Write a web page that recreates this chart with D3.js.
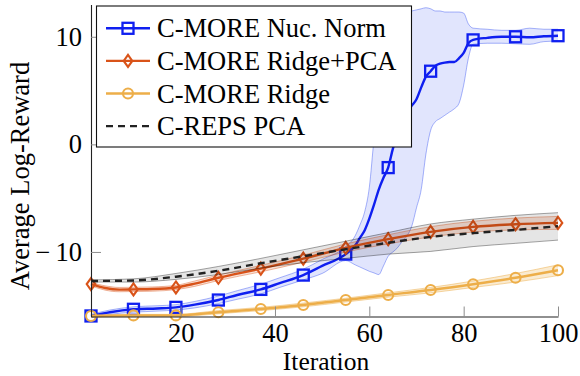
<!DOCTYPE html>
<html>
<head>
<meta charset="utf-8">
<script src="https://cdn.jsdelivr.net/npm/d3@7"></script>
<style>
  html, body { margin: 0; padding: 0; background: #fff; }
  svg { display: block; }
</style>
</head>
<body>
<svg id="chart" width="580" height="376"></svg>
<script>
// ---------------- DATA ----------------
const xTicks = [20, 40, 60, 80, 100];
const yTicks = [-10, 0, 10];
const markerIters = [1, 10, 19, 28, 37, 46, 55, 64, 73, 82, 91, 100];
const legendLabels = ["C-MORE Nuc. Norm", "C-MORE Ridge+PCA", "C-MORE Ridge", "C-REPS PCA"];

// C-MORE Nuc. Norm (blue)
const nucIter = [1,5,10,15,19,23,28,32,37,41,46,50,55,57,58,59,60,61,62,63,64,65,66,67,68,69,70,71,72,73,74,75,76,77,78,79,80,81,82,85,88,91,94,97,100];
const nucMean = [-15.95,-15.6,-15.33,-15.25,-15.15,-14.9,-14.47,-14.0,-13.48,-12.9,-12.15,-11.3,-10.2,-9.4,-8.7,-8.0,-6.9,-5.6,-4.2,-3.1,-2.16,-0.4,1.0,2.3,3.0,3.6,4.2,5.3,6.3,6.8,7.3,7.5,7.6,7.65,7.65,8.0,8.5,9.4,9.71,9.9,10.0,10.0,9.95,10.05,10.1];
const nucLo = [-16.1,-15.8,-15.6,-15.5,-15.4,-15.2,-14.8,-14.4,-13.9,-13.3,-12.6,-12.0,-10.8,-11.2,-11.4,-11.6,-11.8,-11.95,-12.1,-11.3,-10.4,-10.0,-9.6,-9.0,-8.5,-7.6,-5.9,-4.2,-0.9,1.3,2.1,2.4,2.7,3.0,3.3,3.8,5.5,8.0,9.3,9.4,9.4,9.35,9.3,9.55,9.6];
const nucHi = [-15.8,-15.4,-15.1,-15.0,-14.9,-14.6,-14.1,-13.6,-13.0,-12.4,-11.6,-10.7,-9.5,-8.5,-7.5,-6.3,-4.0,0.5,4.0,8.0,11.0,11.8,12.1,12.3,12.3,12.4,12.5,12.6,12.7,12.6,12.4,12.4,12.3,12.3,12.3,12.3,12.2,11.2,10.8,10.7,10.6,10.6,10.8,10.7,10.7];

// C-MORE Ridge+PCA (red-orange)
const rpIter = [1,4,7,10,14,19,23,28,37,46,55,64,73,82,91,100];
const rpMean = [-12.99,-13.35,-13.5,-13.48,-13.45,-13.3,-12.95,-12.4,-11.55,-10.62,-9.62,-8.81,-8.13,-7.67,-7.42,-7.3];
const rpLo   = [-13.15,-13.55,-13.7,-13.68,-13.65,-13.5,-13.2,-12.65,-11.85,-10.95,-10.0,-9.25,-8.6,-8.15,-7.95,-7.9];
const rpHi   = [-12.85,-13.15,-13.3,-13.28,-13.25,-13.1,-12.7,-12.15,-11.25,-10.3,-9.25,-8.4,-7.65,-7.15,-6.85,-6.7];

// C-MORE Ridge (yellow-orange)
const rIter = [1,10,19,28,37,46,55,64,73,82,91,100];
const rMean = [-15.95,-15.9,-15.9,-15.6,-15.3,-14.93,-14.47,-14.0,-13.54,-13.0,-12.4,-11.7];
const rLo   = [-16.05,-16.0,-16.0,-15.75,-15.45,-15.1,-14.65,-14.2,-13.8,-13.3,-12.8,-12.2];
const rHi   = [-15.85,-15.8,-15.8,-15.45,-15.15,-14.75,-14.3,-13.8,-13.3,-12.7,-12.0,-11.2];

// C-REPS PCA (black dashed)
const cIter = [1,10,19,28,37,46,55,64,73,82,91,100];
const cMean = [-12.7,-12.65,-12.3,-11.75,-11.05,-10.4,-9.75,-9.15,-8.6,-8.25,-7.95,-7.6];
const cLo   = [-12.8,-12.8,-12.55,-12.1,-11.5,-11.0,-10.6,-10.2,-9.95,-9.5,-9.2,-8.9];
const cHi   = [-12.6,-12.5,-12.0,-11.35,-10.6,-9.8,-9.0,-8.2,-7.4,-6.95,-6.6,-6.35];

// ---------------- CHART ----------------
const svg = d3.select("#chart");
const x = d3.scaleLinear().domain([1, 100]).range([91, 558]);
const y = d3.scaleLinear().domain([-16, 13]).range([316.5, 4.5]);

const FONT = 26.5;
const FAM = "Liberation Serif";

function rows(it, m, lo, hi) {
  return it.map((v, i) => ({ it: v, m: m[i], lo: lo[i], hi: hi[i] }));
}
const series = [
  { key: "nuc", data: rows(nucIter, nucMean, nucLo, nucHi), color: "#0f1ff0", band: "rgba(40,70,240,0.14)", edge: "rgba(40,70,240,0.45)", marker: "square", dash: null },
  { key: "rp",  data: rows(rpIter, rpMean, rpLo, rpHi), color: "#d95319", band: "rgba(217,83,25,0.18)", edge: "rgba(217,83,25,0.45)", marker: "diamond", dash: null },
  { key: "r",   data: rows(rIter, rMean, rLo, rHi), color: "#edae49", band: "rgba(237,174,73,0.25)", edge: "rgba(237,174,73,0.55)", marker: "circle", dash: null },
  { key: "c",   data: rows(cIter, cMean, cLo, cHi), color: "#222222", band: "rgba(0,0,0,0.10)", edge: "rgba(0,0,0,0.4)", marker: null, dash: "7,5" }
];

const curve = d3.curveMonotoneX;
const area = d3.area().x(d => x(d.it)).y0(d => y(d.lo)).y1(d => y(d.hi)).curve(curve);
const lineM = d3.line().x(d => x(d.it)).y(d => y(d.m)).curve(curve);
const lineLo = d3.line().x(d => x(d.it)).y(d => y(d.lo)).curve(curve);
const lineHi = d3.line().x(d => x(d.it)).y(d => y(d.hi)).curve(curve);

function drawMarker(g, type, cx, cy, color) {
  if (type === "square") {
    g.append("rect").attr("x", cx - 5.5).attr("y", cy - 5.5).attr("width", 11).attr("height", 11)
      .attr("fill", "none").attr("stroke", color).attr("stroke-width", 2.3);
  } else if (type === "diamond") {
    g.append("path").attr("d", `M${cx},${cy - 6}L${cx + 4.3},${cy}L${cx},${cy + 6}L${cx - 4.3},${cy}Z`)
      .attr("fill", "none").attr("stroke", color).attr("stroke-width", 2.1);
  } else if (type === "circle") {
    g.append("circle").attr("cx", cx).attr("cy", cy).attr("r", 5)
      .attr("fill", "none").attr("stroke", color).attr("stroke-width", 2.1);
  }
}

const plot = svg.append("g");
series.forEach(s => {
  const g = plot.append("g");
  g.append("path").attr("d", area(s.data)).attr("fill", s.band).attr("stroke", "none");
  g.append("path").attr("d", lineLo(s.data)).attr("fill", "none").attr("stroke", s.edge).attr("stroke-width", 0.9);
  g.append("path").attr("d", lineHi(s.data)).attr("fill", "none").attr("stroke", s.edge).attr("stroke-width", 0.9);
  const ln = g.append("path").attr("d", lineM(s.data)).attr("fill", "none")
    .attr("stroke", s.color).attr("stroke-width", 2.4).attr("stroke-linejoin", "round");
  if (s.dash) ln.attr("stroke-dasharray", s.dash);
  if (s.marker) {
    s.data.filter(d => markerIters.includes(d.it)).forEach(d => drawMarker(g, s.marker, x(d.it), y(d.m), s.color));
  }
});

// axes
const xAxis = d3.axisBottom(x).tickValues(xTicks).tickSizeInner(-10).tickSizeOuter(0).tickPadding(7);
const yAxis = d3.axisLeft(y).tickValues(yTicks).tickSizeInner(-10).tickSizeOuter(0).tickPadding(9);

const gx = svg.append("g").attr("transform", `translate(0,${y.range()[0]})`).call(xAxis);
const gy = svg.append("g").attr("transform", `translate(${x.range()[0]},0)`).call(yAxis);
[gx, gy].forEach(g => {
  g.attr("font-family", FAM).attr("font-size", FONT);
  g.select(".domain").attr("stroke", "#222").attr("stroke-width", 1.1);
  g.selectAll(".tick line").attr("stroke", "#8c8c8c").attr("stroke-width", 1);
  g.selectAll(".tick text").attr("font-family", FAM).attr("font-size", FONT).attr("fill", "#000");
});
// long math-style minus for negative y labels
gy.selectAll(".tick text").each(function (v) {
  const t = d3.select(this);
  t.text(null);
  if (v < 0) {
    t.append("tspan").text("\u2212");
    t.append("tspan").attr("dx", 5).text(String(Math.abs(v)));
  } else {
    t.append("tspan").text(String(v));
  }
});

// axis labels
svg.append("text").attr("x", 326).attr("y", 370).attr("text-anchor", "middle")
  .attr("font-family", FAM).attr("font-size", 25.5).attr("fill", "#000").text("Iteration");
svg.append("text").attr("transform", "translate(29,176) rotate(-90)").attr("text-anchor", "middle")
  .attr("font-family", FAM).attr("font-size", FONT).attr("fill", "#000").text("Average Log-Reward");

// legend
const lg = svg.append("g");
lg.append("rect").attr("x", 96.5).attr("y", 6).attr("width", 315).attr("height", 141)
  .attr("fill", "#fff").attr("stroke", "#111").attr("stroke-width", 1.1);
series.forEach((s, i) => {
  const cy = 28.3 + i * 32.6;
  const l = lg.append("line").attr("x1", 106).attr("x2", 150).attr("y1", cy).attr("y2", cy)
    .attr("stroke", s.color).attr("stroke-width", 2.4);
  if (s.dash) l.attr("stroke-dasharray", s.dash);
  if (s.marker) drawMarker(lg, s.marker, 128, cy, s.color);
  lg.append("text").attr("x", 157).attr("y", cy).attr("dy", "0.34em")
    .attr("font-family", FAM).attr("font-size", FONT).attr("fill", "#000").text(legendLabels[i]);
});
</script>
</body>
</html>
